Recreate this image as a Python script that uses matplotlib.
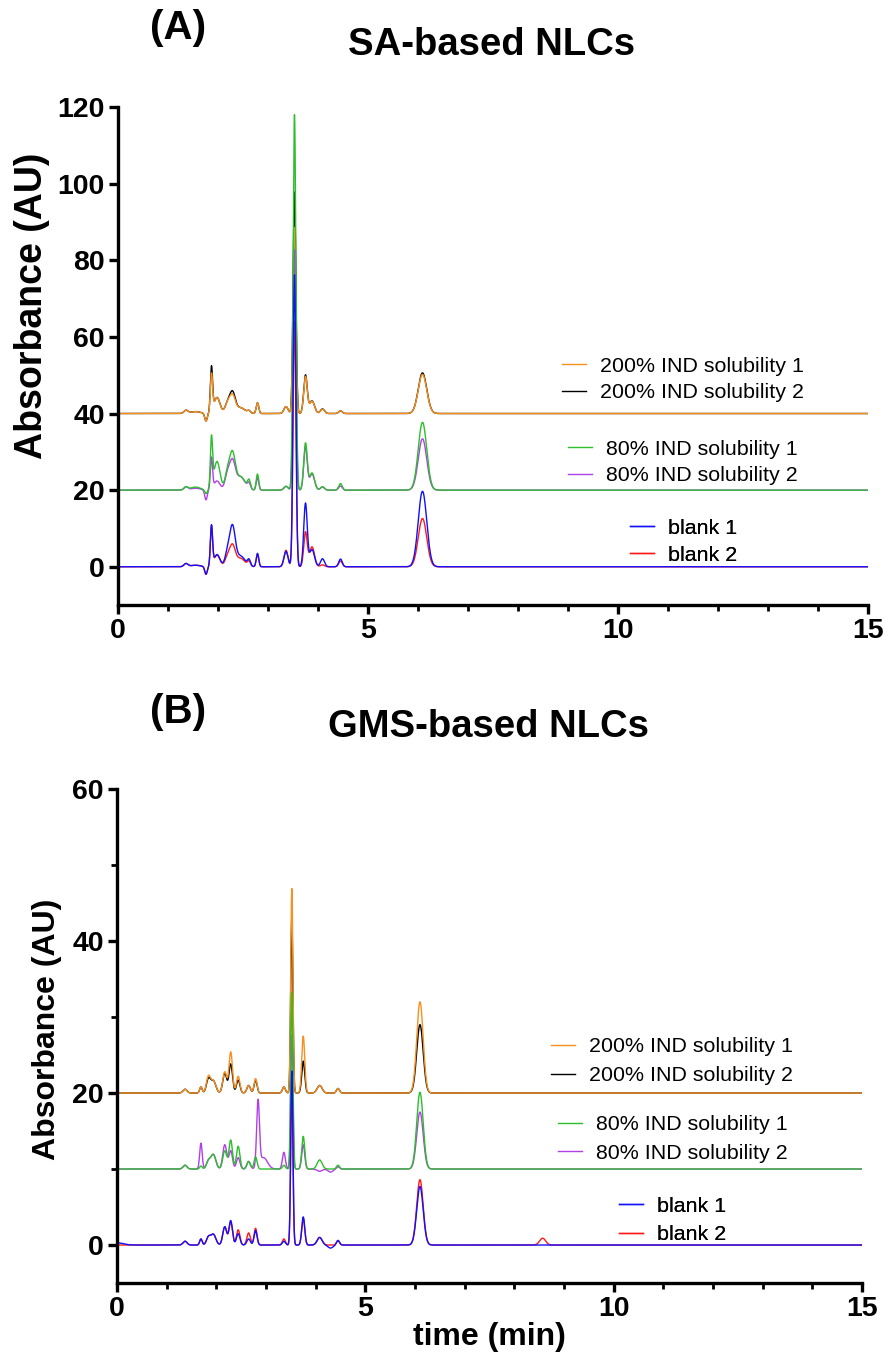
import numpy as np
import matplotlib
matplotlib.use("Agg")
import matplotlib.pyplot as plt

plt.rcParams['font.family'] = ['Liberation Sans', 'DejaVu Sans']

# ---------------- data ----------------
# Series labels and colours
LABELS = ["200% IND solubility 1", "200% IND solubility 2",
          "80% IND solubility 1", "80% IND solubility 2",
          "blank 1", "blank 2"]
COLORS = ["#F7901E", "#000000", "#2DBE2D", "#B040E8", "#1010FF", "#FF1A1A"]

# Panel A: SA-based NLCs -- baseline offsets (AU) of the stacked traces
A_OFFSETS = [40, 40, 20, 20, 0, 0]
# peak retention times (min) and peak widths (sigma, min)
A_RT = [1.36, 1.55, 1.76, 1.87, 1.98, 2.19, 2.29, 2.45, 2.62, 2.79,
        3.36, 3.53, 3.75, 3.88, 4.09, 4.45, 6.09]
A_SIGMA = [0.04, 0.10, 0.025, 0.022, 0.06, 0.05, 0.055, 0.09, 0.03, 0.025,
           0.04, 0.028, 0.035, 0.05, 0.04, 0.035, 0.085]
# peak heights (AU above each trace's baseline)
A_SOL200_1 = [0.8, 0.5, -2.0, 9.8, 4.2, 2.5, 4.5, 1.5, 0.6, 2.8,
              1.8, 48.5, 9.6, 3.2, 1.1, 0.7, 10.2]
A_SOL200_2 = [0.8, 0.5, -2.0, 11.7, 4.2, 2.5, 5.3, 1.5, 0.6, 2.8,
              1.8, 57.8, 10.0, 3.3, 1.2, 0.7, 10.6]
A_SOL80_1 = [0.8, 0.8, -1.0, 13.0, 7.5, 4.5, 9.0, 3.5, 2.3, 4.2,
             1.0, 98.0, 12.2, 4.5, 0.9, 1.7, 17.7]
A_SOL80_2 = [0.8, 0.5, -2.6, 8.2, 2.4, 4.0, 7.0, 3.5, 1.5, 3.3,
             1.0, 62.7, 11.2, 4.2, 0.8, 1.1, 13.4]
A_BLANK_1 = [0.8, 0.4, -2.0, 10.4, 3.2, 3.5, 10.0, 2.8, 1.6, 3.5,
             4.0, 76.2, 16.5, 4.5, 2.1, 2.0, 19.7]
A_BLANK_2 = [0.8, 0.4, -2.0, 10.2, 3.0, 2.5, 5.2, 2.2, 1.2, 3.2,
             4.3, 64.0, 9.0, 5.2, 0.5, 1.5, 12.6]

# Panel B: GMS-based NLCs
B_OFFSETS = [20, 20, 10, 10, 0, 0]
B_RT = [0.00, 1.37, 1.69, 1.84, 1.94, 2.17, 2.29, 2.44, 2.65, 2.79,
        2.84, 2.95, 3.36, 3.52, 3.75, 4.08, 4.30, 4.45, 6.10, 8.57]
B_SIGMA = [0.12, 0.04, 0.025, 0.04, 0.05, 0.04, 0.035, 0.035, 0.035, 0.03,
           0.028, 0.08, 0.03, 0.022, 0.03, 0.05, 0.05, 0.03, 0.065, 0.06]
B_SOL200_1 = [0.0, 0.5, 0.8, 2.1, 1.6, 2.8, 5.4, 2.2, 1.0, 1.9,
              0.0, 0.0, 0.8, 26.9, 7.5, 1.0, 0.0, 0.6, 12.0, 0.0]
B_SOL200_2 = [0.0, 0.5, 0.8, 1.8, 1.6, 2.6, 3.8, 1.7, 1.0, 1.7,
              0.0, 0.0, 0.8, 22.9, 4.2, 1.0, 0.0, 0.6, 9.0, 0.0]
B_SOL80_1 = [0.0, 0.5, 0.4, 1.0, 1.9, 2.4, 3.8, 3.0, 1.0, 1.6,
             0.0, 0.0, 0.5, 23.2, 4.3, 1.2, 0.0, 0.5, 10.1, 0.0]
B_SOL80_2 = [0.0, 0.5, 3.4, 1.0, 1.9, 3.2, 2.4, 1.5, 1.0, 0.0,
             8.6, 1.5, 2.2, 17.7, 3.2, -0.3, -0.4, 0.3, 7.5, 0.0]
B_BLANK_1 = [0.3, 0.5, 0.8, 1.0, 1.4, 2.4, 3.2, 1.5, 0.8, 1.9,
             0.0, 0.0, 0.5, 22.9, 3.7, 1.0, -0.4, 0.6, 7.7, 0.0]
B_BLANK_2 = [0.0, 0.5, 0.8, 1.0, 1.4, 2.4, 3.0, 2.0, 1.6, 2.2,
             0.0, 0.0, 0.8, 21.0, 3.5, 1.0, 0.0, 0.6, 8.6, 0.9]

X_TICKS = [0, 5, 10, 15]
A_YTICKS = [0, 20, 40, 60, 80, 100, 120]
B_YTICKS = [0, 20, 40, 60]


def trace(t, rts, sigmas, heights, offset):
    """Chromatogram trace built from its table of Gaussian peaks."""
    y = np.full_like(t, float(offset))
    for rt, s, h in zip(rts, sigmas, heights):
        y += h * np.exp(-0.5 * ((t - rt) / s) ** 2)
    return y


t = np.linspace(0, 15, 7501)

fig = plt.figure(figsize=(8.87, 13.6), dpi=100)
axA = fig.add_axes([0.1330, 0.5551, 0.8456, 0.3662])
axB = fig.add_axes([0.1319, 0.0566, 0.8399, 0.3632])

# drawing order: the *_1 series of each pair on top at its baseline
order = [1, 0, 3, 2, 5, 4]


def draw_panel(ax, rts, sigmas, series, offsets):
    lines = {}
    for i in order:
        y = trace(t, rts, sigmas, series[i], offsets[i])
        ln, = ax.plot(t, y, color=COLORS[i], lw=1.0, label=LABELS[i],
                      solid_joinstyle='round')
        lines[i] = ln
    return lines


linesA = draw_panel(axA, A_RT, A_SIGMA,
                    [A_SOL200_1, A_SOL200_2, A_SOL80_1, A_SOL80_2, A_BLANK_1, A_BLANK_2],
                    A_OFFSETS)
linesB = draw_panel(axB, B_RT, B_SIGMA,
                    [B_SOL200_1, B_SOL200_2, B_SOL80_1, B_SOL80_2, B_BLANK_1, B_BLANK_2],
                    B_OFFSETS)

axA.set_ylim(-10, 120)
axB.set_ylim(-5, 60)
axA.set_yticks(A_YTICKS)
axB.set_yticks(B_YTICKS)
axB.set_yticks([10, 30, 50], minor=True)

for ax in (axA, axB):
    ax.set_xlim(0, 15)
    ax.set_xticks(X_TICKS)
    ax.set_xticks(np.arange(0, 16, 1), minor=True)
    for side in ('top', 'right'):
        ax.spines[side].set_visible(False)
    for side in ('left', 'bottom'):
        ax.spines[side].set_linewidth(2.4)
        ax.spines[side].set_capstyle('projecting')
    ax.tick_params(which='major', direction='out', length=6.5, width=2.4,
                   labelsize=20.5, pad=3)
    ax.tick_params(which='minor', direction='out', length=4.5, width=2.0)
    for lab in ax.get_xticklabels() + ax.get_yticklabels():
        lab.set_fontweight('bold')

axA.set_ylabel("Absorbance (AU)", fontsize=27, fontweight='bold')
axB.set_ylabel("Absorbance (AU)", fontsize=23, fontweight='bold')
axA.yaxis.set_label_coords(-0.091, 0.60)
axB.yaxis.set_label_coords(-0.074, 0.514)
axB.set_xlabel("time (min)", fontsize=23, fontweight='bold', labelpad=0)


def group_legend(ax, lines, idx, x, y, spacing):
    leg = ax.legend([lines[i] for i in idx], [LABELS[i] for i in idx],
                    loc='center left', bbox_to_anchor=(x, y), frameon=False,
                    fontsize=15.4, handlelength=1.12, handletextpad=0.65,
                    labelspacing=spacing, borderpad=0, borderaxespad=0)
    ax.add_artist(leg)


group_legend(axA, linesA, [0, 1], 0.592, 0.4528, 0.36)
group_legend(axA, linesA, [2, 3], 0.600, 0.286, 0.36)
group_legend(axA, linesA, [4, 5], 0.6827, 0.127, 0.36)
group_legend(axB, linesB, [0, 1], 0.5826, 0.449, 0.45)
group_legend(axB, linesB, [2, 3], 0.592, 0.2915, 0.45)
group_legend(axB, linesB, [4, 5], 0.674, 0.1265, 0.45)

fig.text(178 / 887, 1 - 28 / 1360, "(A)", fontsize=29, fontweight='bold',
         ha='center', va='center')
fig.text(492 / 887, 1 - 45 / 1360, "SA-based NLCs", fontsize=27.5,
         fontweight='bold', ha='center', va='center')
fig.text(178 / 887, 1 - 712 / 1360, "(B)", fontsize=29, fontweight='bold',
         ha='center', va='center')
fig.text(489 / 887, 1 - 727 / 1360, "GMS-based NLCs", fontsize=27.5,
         fontweight='bold', ha='center', va='center')

fig.savefig("out.png", dpi=100)
